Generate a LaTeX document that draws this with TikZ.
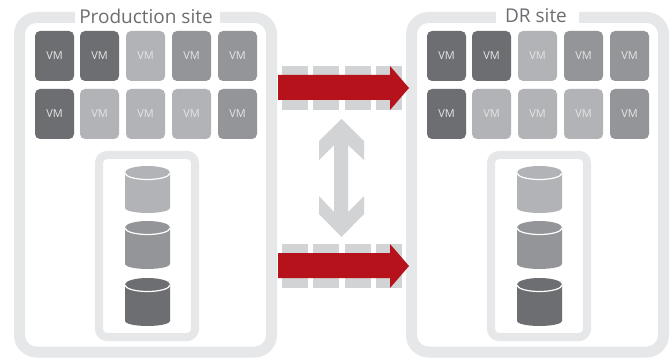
\documentclass[tikz,border=0pt]{standalone}
\usepackage{fontspec}
\setmainfont{Open Sans}
\definecolor{vmdark}{HTML}{6D6E71}
\definecolor{vmmid}{HTML}{939598}
\definecolor{vmlight}{HTML}{B1B3B6}
\definecolor{frameg}{HTML}{E6E7E8}
\definecolor{blockg}{HTML}{D1D3D4}
\definecolor{redarrow}{HTML}{B5121B}
\tikzset{
  vmbox/.style={fill=#1,rounded corners=5pt,inner sep=0pt,minimum width=39pt,minimum height=50pt,text=white!90!black,font=\fontsize{11pt}{12pt}\selectfont,anchor=center},
  sitetitle/.style={text=vmdark,inner sep=0pt,font=\fontsize{19pt}{22pt}\selectfont,anchor=center},
  siteframe/.style={draw=frameg,line width=11pt,rounded corners=17pt},
  storeframe/.style={draw=frameg,line width=8pt,rounded corners=8pt},
  transfer/.style={fill=redarrow},
  block/.style={fill=blockg}
}
\newcommand{\drawcyl}[4]{% x offset, top y, bottom y, colour
  \fill[#4] (#1+125,#2+6.5) arc[start angle=180,end angle=360,x radius=22.5,y radius=6.5]
     -- (#1+170,#3-5) arc[start angle=0,end angle=180,x radius=22.5,y radius=5] -- cycle;
  \fill[#4] (#1+125,#2+6.5) arc[start angle=180,end angle=0,x radius=22.5,y radius=6.5] -- cycle;
  \draw[white,line width=1.2pt] (#1+125,#2+7) arc[start angle=180,end angle=0,x radius=22.5,y radius=6.5];
}
\newcommand{\drawsite}[1]{% x offset
  \draw[siteframe] (#1+19.5,17.5) rectangle (#1+271.5,352);
  \draw[storeframe] (#1+99,155) rectangle (#1+195,337);
  \foreach \col/\cx in {1/54.5,2/99.5,3/145.5,4/191.5,5/237.5}{
    \foreach \row/\cy/\shades in {1/56/{vmdark,vmdark,vmlight,vmmid,vmmid},2/114/{vmdark,vmlight,vmlight,vmlight,vmmid}}{
      \foreach \shade [count=\i] in \shades {
        \ifnum\i=\col
          \node[vmbox=\shade] (vm#1-\row-\col) at (#1+\cx,\cy) {\raisebox{-1.2pt}{VM}};
        \fi
      }
    }
  }
  \drawcyl{#1}{166}{213}{vmlight}
  \drawcyl{#1}{221}{269}{vmmid}
  \drawcyl{#1}{278}{326}{vmdark}
}
\begin{document}
\begin{tikzpicture}[x=1pt,y=-1pt]
\useasboundingbox (0,0) rectangle (671,358);
\fill[white] (0,0) rectangle (671,358);
\drawsite{0}
\drawsite{392}
\fill[white] (75,5) rectangle (220,28);
\fill[white] (496,5) rectangle (579,28);
\node[sitetitle] (prodtitle) at (146,16) {Production site};
\node[sitetitle] (drtitle) at (536,16) {DR site};
\foreach \y in {66,244}{
  \foreach \x/\w in {282/26,313/26,345/26,376/26}{
    \fill[block] (\x,\y) rectangle ++(\w,44);
  }
  \fill[transfer] (278,\y+9) -- (390,\y+9) -- (390,\y) -- (409,\y+22) -- (390,\y+44) -- (390,\y+34) -- (278,\y+34) -- cycle;
}
\fill[block] (341.5,119) -- (364,141) -- (364,160) -- (348,145) -- (348,212) -- (364,196) -- (364,214) -- (341.5,237) -- (319,214) -- (319,196) -- (334,212) -- (334,145) -- (319,160) -- (319,141) -- cycle;
\end{tikzpicture}
\end{document}
